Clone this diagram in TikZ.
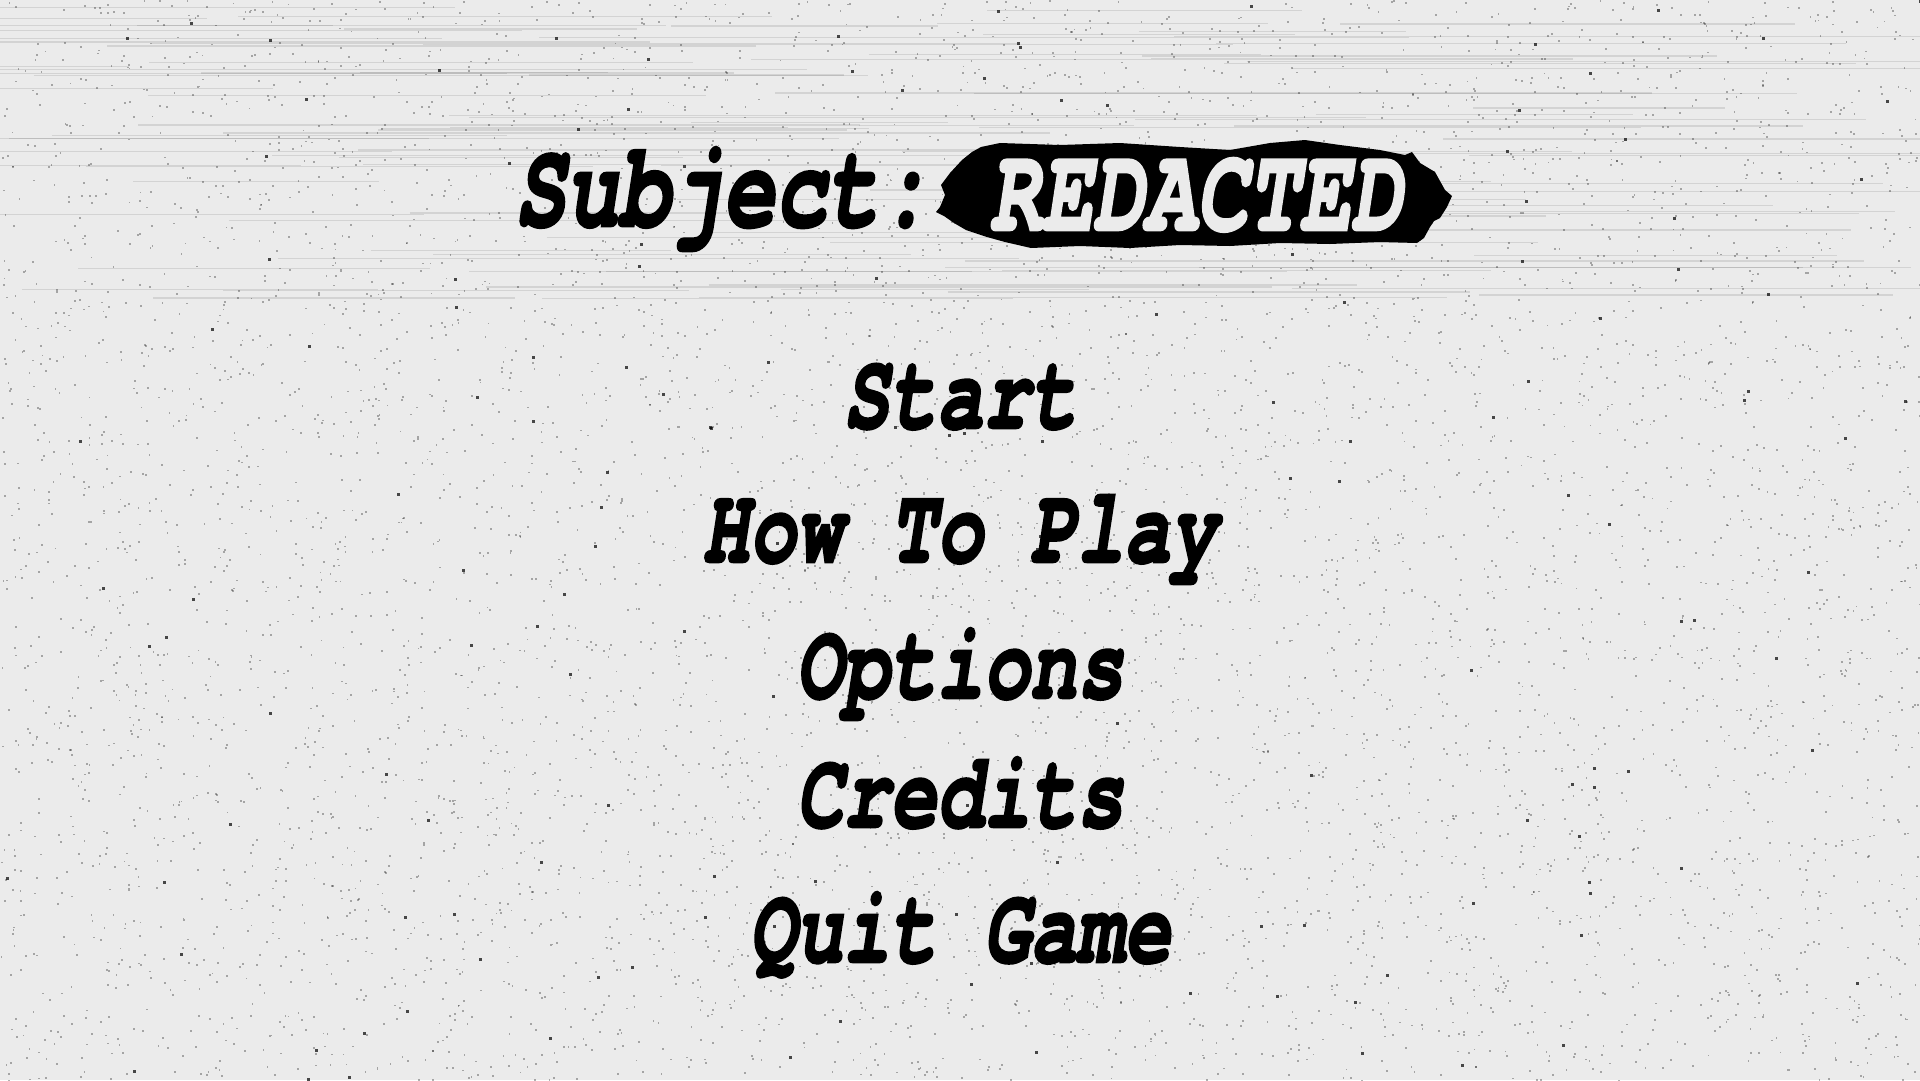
\documentclass[tikz,border=0pt]{standalone}
\usepackage{fontspec}
\newfontfamily\heavy{texgyrecursor-bolditalic}[Extension=.otf, FakeBold=2.4]
\colorlet{paper}{black!8}
\tikzset{
  menuitem/.style={anchor=base, inner sep=0pt, font=\heavy\fontsize{78}{78}\selectfont, text=black},
  titletext/.style={anchor=base west, inner sep=0pt, font=\heavy\fontsize{86}{86}\selectfont, text=black},
  redtext/.style={anchor=base, inner sep=0pt, font=\heavy\fontsize{86}{86}\selectfont, text=paper},
}
\begin{document}
\begin{tikzpicture}[x=1pt, y=-1pt]
\useasboundingbox (0,0) rectangle (1920,1080);
\fill[paper] (0,0) rectangle (1920,1080);
% paper texture
\pgfmathsetseed{42}
\begin{scope}[draw opacity=0.1, line width=1.3]
\foreach \i in {1,...,110}{
  \pgfmathsetmacro{\yy}{rnd*300}
  \pgfmathsetmacro{\xa}{rnd*1700-200}
  \pgfmathsetmacro{\ww}{200+rnd*700}
  \draw[black] (\xa,\yy) -- ++(\ww,0);
}
\end{scope}
\begin{scope}[fill opacity=0.3]
\foreach \i in {1,...,7000}{
  \fill[black] (rnd*1920, rnd*1080) rectangle ++(1.8,1.8);
}
\end{scope}
\begin{scope}[fill opacity=0.7]
\foreach \i in {1,...,160}{
  \fill[black] (rnd*1920, rnd*1080) rectangle ++(3,3);
}
\end{scope}
% title
\node[titletext] (subj) at (514,226) {\scalebox{1.01}[1.41]{Subject:}};
\fill[black] (981,147) -- (1000,143) -- (1060,145) -- (1120,143) -- (1180,147) -- (1230,150) -- (1270,143) -- (1305,140) -- (1340,145) -- (1380,150) -- (1405,155) -- (1412,152) -- (1420,163) -- (1435,172) -- (1445,190) -- (1452,196) -- (1447,207) -- (1440,218) -- (1434,221) -- (1430,227) -- (1424,238) -- (1417,243) -- (1380,242) -- (1330,244) -- (1280,243) -- (1230,246) -- (1180,245) -- (1130,248) -- (1080,246) -- (1031,248) -- (1005,242) -- (987,237) -- (966,230) -- (954,223) -- (944,216) -- (936,212) -- (940,207) -- (945,195) -- (941,185) -- (950,173) -- (962,160) -- (972,152) -- cycle;
\node[redtext] (red) at (1196,230) {\scalebox{1.0}[1.4]{REDACTED}};
% menu
\node[menuitem] (start) at (960,428) {\scalebox{1}[1.38]{Start}};
\node[menuitem] (how) at (960,562) {\scalebox{1}[1.38]{How To Play}};
\node[menuitem] (opt) at (960,698) {\scalebox{1}[1.38]{Options}};
\node[menuitem] (cred) at (960,827) {\scalebox{1}[1.38]{Credits}};
\node[menuitem] (quit) at (960,962) {\scalebox{1}[1.38]{Quit Game}};
\end{tikzpicture}
\end{document}
